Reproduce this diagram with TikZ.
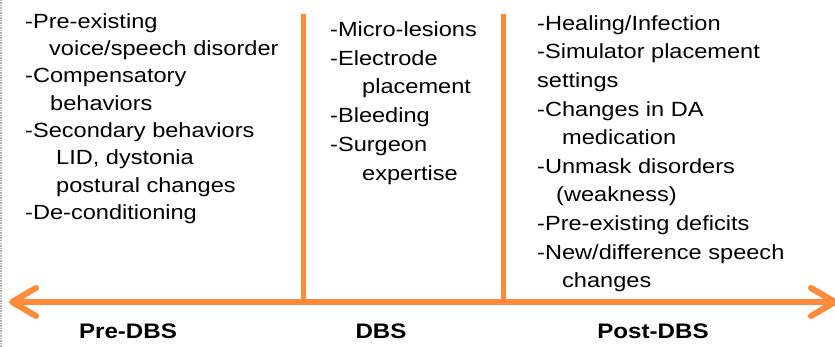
\documentclass[tikz,border=0pt]{standalone}
\usepackage{fontspec}
\setmainfont{Liberation Sans}[FakeStretch=1.15]
\usetikzlibrary{arrows.meta}

\definecolor{dbsorange}{RGB}{255,138,58}

\tikzset{
  column/.style={anchor=north west, align=left, inner sep=0pt,
    font=\fontsize{20.5}{#1}\selectfont},
  phase/.style={anchor=base, inner sep=0pt, font=\fontsize{21}{25}\selectfont\bfseries},
  timeline/.style={dbsorange, line width=6pt},
  marker/.style={dbsorange, line width=5pt},
  barb/.tip={Straight Barb[length=24pt, width=28pt, round]},
}

\begin{document}
\begin{tikzpicture}[x=1pt, y=-1pt]
  \useasboundingbox (0,0) rectangle (835,347);
  % dotted frame edge on the left
  \draw[gray!60, densely dotted, line width=1.5pt] (0.75,0) -- (0.75,347);

  % time line with the two surgery markers
  \coordinate (past) at (9,302);
  \coordinate (future) at (838,302);
  \coordinate (opstart) at (303,302);
  \coordinate (opend) at (503,302);
  \coordinate (opstarttop) at (303,14);
  \coordinate (opendtop) at (503,14);
  \draw[marker] (opstarttop) -- (opstart);
  \draw[marker] (opendtop) -- (opend);
  \draw[timeline, barb-barb] (past) -- (future);

  % factors in each phase
  \node[column=27.3] (pre) at (25,13.3) {%
    -Pre-existing\\
    \hspace*{24pt}voice/speech disorder\\
    -Compensatory\\
    \hspace*{25pt}behaviors\\
    -Secondary behaviors\\
    \hspace*{31pt}LID, dystonia\\
    \hspace*{31pt}postural changes\\
    -De-conditioning};
  \node[column=28.8] (during) at (330,21.3) {%
    -Micro-lesions\\
    -Electrode\\
    \hspace*{32pt}placement\\
    -Bleeding\\
    -Surgeon\\
    \hspace*{32pt}expertise};
  \node[column=28.6] (post) at (537,15.3) {%
    -Healing/Infection\\
    -Simulator placement\\
    settings\\
    -Changes in DA\\
    \hspace*{25pt}medication\\
    -Unmask disorders\\
    \hspace*{19pt}(weakness)\\
    -Pre-existing deficits\\
    -New/difference speech\\
    \hspace*{25pt}changes};

  % phase names
  \node[phase] (prelabel) at (128,338) {Pre-DBS};
  \node[phase] (dbslabel) at (381,338) {DBS};
  \node[phase] (postlabel) at (653,338) {Post-DBS};
\end{tikzpicture}
\end{document}
